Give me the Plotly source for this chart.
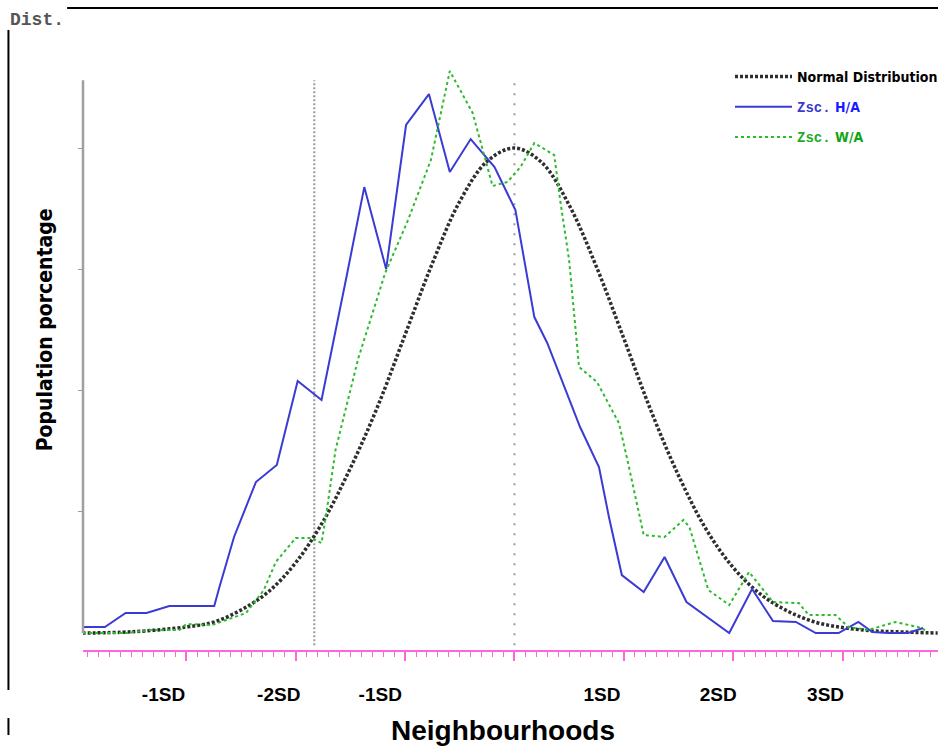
import plotly.graph_objects as go

# ---------------- data (x in SD units, y in population %) ----------------
normal_x = [-3.95, -3.5, -3.0, -2.75, -2.5, -2.25, -2.0, -1.75, -1.5, -1.25, -1.0, -0.75,
            -0.5, -0.25, 0.0, 0.25, 0.5, 0.75, 1.0, 1.25, 1.5, 1.75, 2.0, 2.25, 2.5,
            2.75, 3.0, 3.25, 3.5, 3.87]
normal_y = [0.0, 0.01, 0.05, 0.09, 0.19, 0.34, 0.58, 0.92, 1.36, 1.87, 2.46, 3.05,
            3.56, 3.89, 4.0, 3.88, 3.53, 3.02, 2.43, 1.83, 1.30, 0.86, 0.54, 0.32, 0.18,
            0.09, 0.045, 0.02, 0.01, 0.0]

ha_x = [-3.945, -3.745, -3.555, -3.364, -3.155, -2.745, -2.7, -2.564, -2.364, -2.173,
        -1.982, -1.764, -1.536, -1.373, -1.173, -0.991, -0.782, -0.591, -0.4, -0.182,
        0.009, 0.182, 0.3, 0.6, 0.773, 0.864, 0.982, 1.182, 1.373, 1.573,
        1.964, 2.173, 2.364, 2.573, 2.755, 2.964, 3.145, 3.273, 3.418, 3.6, 3.736]
ha_y = [0.05, 0.05, 0.165, 0.165, 0.223, 0.223, 0.371, 0.792, 1.245, 1.386,
        2.078, 1.922, 2.936, 3.678, 3.002, 4.19, 4.445, 3.802, 4.074, 3.843,
        3.489, 2.606, 2.392, 1.699, 1.369, 0.957, 0.478, 0.338, 0.627, 0.256,
        0.0, 0.363, 0.099, 0.091, 0.0, 0.0, 0.091, 0.008, 0.0, 0.0, 0.041]

wa_x = [-3.945, -3.545, -3.336, -3.064, -3.0, -2.764, -2.636, -2.455, -2.291, -2.182,
        -2.0, -1.855, -1.764, -1.718, -1.636, -1.518, -1.427, -1.182, -0.973, -0.764,
        -0.591, -0.382, -0.2, -0.064, 0.055, 0.182, 0.364, 0.418, 0.5, 0.591,
        0.755, 0.955, 1.027, 1.182, 1.373, 1.545, 1.6, 1.773, 1.964, 2.145,
        2.364, 2.6, 2.691, 2.936, 3.055, 3.236, 3.482, 3.691, 3.755]
wa_y = [0.0, 0.0, 0.025, 0.025, 0.074, 0.066, 0.107, 0.165, 0.355, 0.586,
        0.784, 0.784, 0.742, 0.998, 1.509, 1.946, 2.268, 2.969, 3.406, 3.901,
        4.635, 4.289, 3.687, 3.72, 3.843, 4.041, 3.942, 3.571, 3.076, 2.194,
        2.07, 1.732, 1.452, 0.808, 0.792, 0.932, 0.874, 0.355, 0.231, 0.503,
        0.256, 0.247, 0.148, 0.148, 0.049, 0.025, 0.091, 0.049, 0.025]

tick_positions = [-3.209, -2.155, -1.227, 0.8, 1.864, 2.845]
tick_labels = ["-1SD", "-2SD", "-1SD", "1SD", "2SD", "3SD"]
ref_lines_sd = [-1.83, 0.0]
y_ticks = [1, 2, 3, 4]
y_axis_top = 4.56

X_RANGE = [-3.945, 3.873]
Y_RANGE = [-0.14, 5.056]

NARROW = "DejaVu Sans Condensed, Liberation Sans Narrow, Arial Narrow, sans-serif"

fig = go.Figure()
fig.add_trace(go.Scatter(
    x=normal_x, y=normal_y, mode="lines", line_shape="spline",
    name="<b>Normal Distribution</b>",
    line=dict(color="#2e2e2e", width=3.5, dash="3px,2px"),
    legendgroup="a"))
fig.add_trace(go.Scatter(
    x=ha_x, y=ha_y, mode="lines",
    name="<span style='font-family:Liberation Mono;color:#3a3ad0'><b>Zsc.</b></span>"
         "<span style='color:#1a1aff'><b> H/A</b></span>",
    line=dict(color="#3b3bd4", width=2),
    legendgroup="b"))
fig.add_trace(go.Scatter(
    x=wa_x, y=wa_y, mode="lines",
    name="<span style='font-family:Liberation Mono;color:#1faa1f'><b>Zsc.</b></span>"
         "<span style='color:#13a313'><b> W/A</b></span>",
    line=dict(color="#2dbb2d", width=2, dash="dot"),
    legendgroup="c"))
# invisible trace to activate label axis
fig.add_trace(go.Scatter(x=[X_RANGE[0]], y=[0], xaxis="x2", mode="markers",
                         marker=dict(opacity=0), showlegend=False, hoverinfo="skip"))

shapes = []
for xv in ref_lines_sd:
    shapes.append(dict(type="line", xref="x", yref="y", x0=xv, x1=xv,
                       y0=-0.1, y1=y_axis_top, layer="below",
                       line=dict(color="#9a9a9a", width=2,
                                 dash="2px,2px" if xv != 0 else "2px,8px")))
# y axis line
shapes.append(dict(type="line", xref="paper", yref="y", x0=0, x1=0, y0=0, y1=y_axis_top,
                   line=dict(color="#a0a0a0", width=2.5)))
# outer frame lines
shapes.append(dict(type="line", xref="paper", yref="paper", x0=-0.0186, x1=1.0,
                   y0=1.019, y1=1.019, line=dict(color="black", width=2)))
shapes.append(dict(type="line", xref="paper", yref="paper", x0=-0.0872, x1=-0.0872,
                   y0=0.984, y1=-0.0635, line=dict(color="black", width=2)))
shapes.append(dict(type="line", xref="paper", yref="paper", x0=-0.0872, x1=-0.0872,
                   y0=-0.108, y1=-0.135, line=dict(color="black", width=2)))

fig.update_layout(
    width=943, height=749,
    margin=dict(l=83, r=0, t=20, b=99),
    paper_bgcolor="white", plot_bgcolor="white",
    showlegend=True,
    legend=dict(x=0.757, y=0.935, xanchor="left", yanchor="top",
                bgcolor="rgba(0,0,0,0)", itemwidth=57, tracegroupgap=9,
                font=dict(family=NARROW, size=14, color="black")),
    xaxis=dict(range=X_RANGE, showgrid=False, zeroline=False,
               showline=True, linecolor="#ff66d9", linewidth=2,
               ticks="outside", tickcolor="#ff66d9", ticklen=9, tickwidth=2,
               dtick=1, tick0=0, showticklabels=False,
               minor=dict(dtick=0.1, ticklen=5, tickcolor="#ff66d9",
                          ticks="outside", tickwidth=1)),
    xaxis2=dict(range=X_RANGE, overlaying="x", side="bottom", showgrid=False,
                zeroline=False, showline=False,
                tickmode="array", tickvals=tick_positions, ticktext=tick_labels,
                ticks="outside", ticklen=27, tickcolor="rgba(0,0,0,0)",
                tickfont=dict(family="Liberation Sans, Arial, sans-serif",
                              size=19, color="black", weight="bold"),
                ),
    yaxis=dict(range=Y_RANGE, showgrid=False, zeroline=False, showline=False,
               tickmode="array", tickvals=y_ticks, ticks="outside", ticklen=4,
               tickcolor="#9a9a9a", tickwidth=1, showticklabels=False),
    shapes=shapes,
    annotations=[
        dict(text="<b>Dist.</b>", xref="paper", yref="paper", x=-0.0872, y=1.0,
             xanchor="left", yanchor="middle", showarrow=False,
             font=dict(family="Liberation Mono, DejaVu Sans Mono, monospace",
                       size=18, color="#555555")),
        dict(text="<b>Population porcentage</b>", xref="paper", yref="paper",
             x=-0.044, y=0.508, xanchor="center", yanchor="middle", textangle=-90,
             showarrow=False, font=dict(family=NARROW, size=21, color="black")),
        dict(text="<b>Neighbourhoods</b>", xref="paper", yref="paper",
             x=0.4907, y=-0.127, xanchor="center", yanchor="middle",
             showarrow=False,
             font=dict(family="Liberation Sans, Arial, sans-serif", size=28,
                       color="black")),
    ],
)

fig.write_html("out.html")
